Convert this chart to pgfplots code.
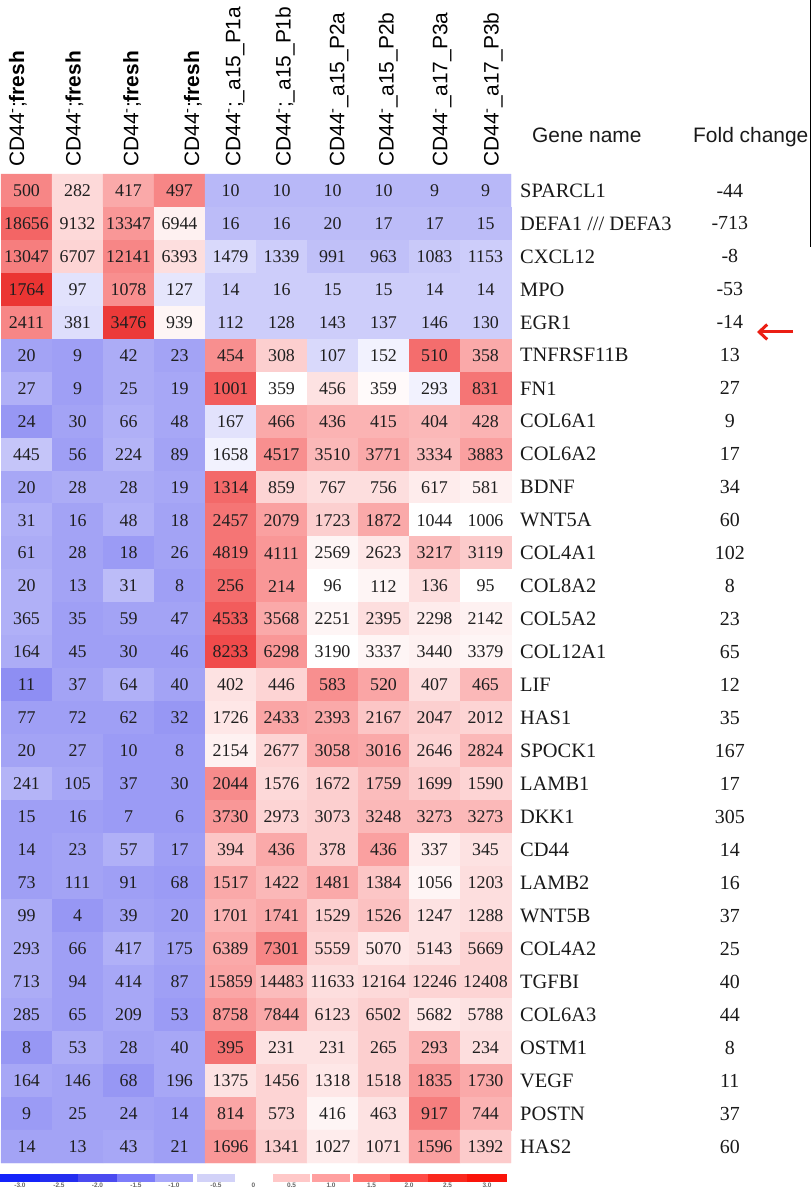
\documentclass[border=0pt]{standalone}
\usepackage{pgfplots}
\pgfplotsset{compat=1.18}
\usepackage{pgfplotstable}
\usepackage{fontspec}
\setmainfont{Liberation Serif}
\newfontfamily\hdr{Liberation Sans}
\usetikzlibrary{arrows.meta}

\pgfplotstableread[row sep=\\]{
x y c v\\
0 0 1.3 500\\ 1 0 0.4 282\\ 2 0 0.9 417\\ 3 0 1.3 497\\ 4 0 -0.85 10\\ 5 0 -0.85 10\\ 6 0 -0.85 10\\ 7 0 -0.85 10\\ 8 0 -0.85 9\\ 9 0 -0.85 9\\
0 1 1.7 18656\\ 1 1 0.4 9132\\ 2 1 1.1 13347\\ 3 1 0.15 6944\\ 4 1 -0.8 16\\ 5 1 -0.8 16\\ 6 1 -0.8 20\\ 7 1 -0.8 17\\ 8 1 -0.8 17\\ 9 1 -0.8 15\\
0 2 1.4 13047\\ 1 2 0.45 6707\\ 2 2 1.3 12141\\ 3 2 0.35 6393\\ 4 2 -0.45 1479\\ 5 2 -0.6 1339\\ 6 2 -0.75 991\\ 7 2 -0.75 963\\ 8 2 -0.65 1083\\ 9 2 -0.6 1153\\
0 3 2.4 1764\\ 1 3 -0.35 97\\ 2 3 1.2 1078\\ 3 3 -0.3 127\\ 4 3 -0.6 14\\ 5 3 -0.6 16\\ 6 3 -0.6 15\\ 7 3 -0.6 15\\ 8 3 -0.6 14\\ 9 3 -0.6 14\\
0 4 1.3 2411\\ 1 4 -0.4 381\\ 2 4 2.3 3476\\ 3 4 0.1 939\\ 4 4 -0.6 112\\ 5 4 -0.6 128\\ 6 4 -0.6 143\\ 7 4 -0.6 137\\ 8 4 -0.6 146\\ 9 4 -0.6 130\\
0 5 -1.1 20\\ 1 5 -1.15 9\\ 2 5 -1.0 42\\ 3 5 -1.1 23\\ 4 5 1.2 454\\ 5 5 0.5 308\\ 6 5 -0.45 107\\ 7 5 -0.15 152\\ 8 5 1.6 510\\ 9 5 0.9 358\\
0 6 -0.95 27\\ 1 6 -1.15 9\\ 2 6 -1.0 25\\ 3 6 -1.05 19\\ 4 6 1.8 1001\\ 5 6 0 359\\ 6 6 0.3 456\\ 7 6 0.05 359\\ 8 6 -0.15 293\\ 9 6 1.5 831\\
0 7 -1.25 24\\ 1 7 -1.1 30\\ 2 7 -0.95 66\\ 3 7 -1.05 48\\ 4 7 -0.35 167\\ 5 7 0.9 466\\ 6 7 0.8 436\\ 7 7 0.8 415\\ 8 7 0.75 404\\ 9 7 0.8 428\\
0 8 -0.7 445\\ 1 8 -1.15 56\\ 2 8 -0.9 224\\ 3 8 -1.1 89\\ 4 8 -0.15 1658\\ 5 8 1.2 4517\\ 6 8 0.75 3510\\ 7 8 0.9 3771\\ 8 8 0.7 3334\\ 9 8 1.0 3883\\
0 9 -1.05 20\\ 1 9 -1.0 28\\ 2 9 -1.0 28\\ 3 9 -1.05 19\\ 4 9 1.65 1314\\ 5 9 0.45 859\\ 6 9 0.35 767\\ 7 9 0.35 756\\ 8 9 0.2 617\\ 9 9 0.15 581\\
0 10 -0.95 31\\ 1 10 -1.1 16\\ 2 10 -0.95 48\\ 3 10 -1.1 18\\ 4 10 1.5 2457\\ 5 10 1.0 2079\\ 6 10 0.5 1723\\ 7 10 0.9 1872\\ 8 10 0 1044\\ 9 10 0 1006\\
0 11 -1.0 61\\ 1 11 -1.1 28\\ 2 11 -1.2 18\\ 3 11 -1.1 26\\ 4 11 1.5 4819\\ 5 11 1.1 4111\\ 6 11 0.1 2569\\ 7 11 0.25 2623\\ 8 11 0.7 3217\\ 9 11 0.55 3119\\
0 12 -0.95 20\\ 1 12 -1.1 13\\ 2 12 -0.8 31\\ 3 12 -1.15 8\\ 4 12 1.6 256\\ 5 12 1.1 214\\ 6 12 0 96\\ 7 12 0.1 112\\ 8 12 0.35 136\\ 9 12 0 95\\
0 13 -0.95 365\\ 1 13 -1.15 35\\ 2 13 -1.1 59\\ 3 13 -1.1 47\\ 4 13 1.8 4533\\ 5 13 0.9 3568\\ 6 13 0.1 2251\\ 7 13 0.35 2395\\ 8 13 0.2 2298\\ 9 13 0.15 2142\\
0 14 -1.0 164\\ 1 14 -1.15 45\\ 2 14 -1.15 30\\ 3 14 -1.15 46\\ 4 14 2.0 8233\\ 5 14 1.1 6298\\ 6 14 0 3190\\ 7 14 0.1 3337\\ 8 14 0.15 3440\\ 9 14 0.1 3379\\
0 15 -1.35 11\\ 1 15 -1.1 37\\ 2 15 -0.95 64\\ 3 15 -1.1 40\\ 4 15 0.3 402\\ 5 15 0.45 446\\ 6 15 1.2 583\\ 7 15 0.95 520\\ 8 15 0.35 407\\ 9 15 0.75 465\\
0 16 -1.15 77\\ 1 16 -1.15 72\\ 2 16 -1.15 62\\ 3 16 -1.25 32\\ 4 16 0.25 1726\\ 5 16 0.95 2433\\ 6 16 0.9 2393\\ 7 16 0.6 2167\\ 8 16 0.5 2047\\ 9 16 0.45 2012\\
0 17 -1.1 20\\ 1 17 -1.1 27\\ 2 17 -1.2 10\\ 3 17 -1.2 8\\ 4 17 0.15 2154\\ 5 17 0.45 2677\\ 6 17 0.95 3058\\ 7 17 0.9 3016\\ 8 17 0.45 2646\\ 9 17 0.75 2824\\
0 18 -0.9 241\\ 1 18 -1.05 105\\ 2 18 -1.2 37\\ 3 18 -1.2 30\\ 4 18 1.25 2044\\ 5 18 0.4 1576\\ 6 18 0.5 1672\\ 7 18 0.7 1759\\ 8 18 0.55 1699\\ 9 18 0.45 1590\\
0 19 -1.15 15\\ 1 19 -1.15 16\\ 2 19 -1.2 7\\ 3 19 -1.2 6\\ 4 19 1.1 3730\\ 5 19 0.45 2973\\ 6 19 0.5 3073\\ 7 19 0.75 3248\\ 8 19 0.75 3273\\ 9 19 0.75 3273\\
0 20 -1.15 14\\ 1 20 -1.1 23\\ 2 20 -0.95 57\\ 3 20 -1.15 17\\ 4 20 0.6 394\\ 5 20 0.9 436\\ 6 20 0.5 378\\ 7 20 1.0 436\\ 8 20 0.2 337\\ 9 20 0.3 345\\
0 21 -1.15 73\\ 1 21 -1.1 111\\ 2 21 -1.15 91\\ 3 21 -1.2 68\\ 4 21 0.9 1517\\ 5 21 0.75 1422\\ 6 21 0.9 1481\\ 7 21 0.6 1384\\ 8 21 0.1 1056\\ 9 21 0.35 1203\\
0 22 -1.0 99\\ 1 22 -1.25 4\\ 2 22 -1.1 39\\ 3 22 -1.15 20\\ 4 22 0.8 1701\\ 5 22 0.9 1741\\ 6 22 0.5 1529\\ 7 22 0.65 1526\\ 8 22 0.3 1247\\ 9 22 0.35 1288\\
0 23 -1.0 293\\ 1 23 -1.15 66\\ 2 23 -0.95 417\\ 3 23 -1.1 175\\ 4 23 0.9 6389\\ 5 23 1.3 7301\\ 6 23 0.45 5559\\ 7 23 0.25 5070\\ 8 23 0.3 5143\\ 9 23 0.45 5669\\
0 24 -1.0 713\\ 1 24 -1.15 94\\ 2 24 -1.05 414\\ 3 24 -1.15 87\\ 4 24 0.95 15859\\ 5 24 0.7 14483\\ 6 24 0.35 11633\\ 7 24 0.4 12164\\ 8 24 0.45 12246\\ 9 24 0.45 12408\\
0 25 -1.05 285\\ 1 25 -1.15 65\\ 2 25 -1.05 209\\ 3 25 -1.2 53\\ 4 25 1.1 8758\\ 5 25 0.9 7844\\ 6 25 0.4 6123\\ 7 25 0.5 6502\\ 8 25 0.25 5682\\ 9 25 0.3 5788\\
0 26 -1.25 8\\ 1 26 -1.0 53\\ 2 26 -1.1 28\\ 3 26 -1.05 40\\ 4 26 1.55 395\\ 5 26 0.3 231\\ 6 26 0.3 231\\ 7 26 0.5 265\\ 8 26 0.8 293\\ 9 26 0.35 234\\
0 27 -1.05 164\\ 1 27 -1.1 146\\ 2 27 -1.25 68\\ 3 27 -1.05 196\\ 4 27 0.3 1375\\ 5 27 0.45 1456\\ 6 27 0.25 1318\\ 7 27 0.5 1518\\ 8 27 1.1 1835\\ 9 27 0.9 1730\\
0 28 -1.2 9\\ 1 28 -1.1 25\\ 2 28 -1.1 24\\ 3 28 -1.15 14\\ 4 28 0.95 814\\ 5 28 0.45 573\\ 6 28 0.1 416\\ 7 28 0.3 463\\ 8 28 1.4 917\\ 9 28 0.8 744\\
0 29 -1.1 14\\ 1 29 -1.1 13\\ 2 29 -1.05 43\\ 3 29 -1.15 21\\ 4 29 1.1 1696\\ 5 29 0.5 1341\\ 6 29 0.2 1027\\ 7 29 0.3 1071\\ 8 29 1.0 1596\\ 9 29 0.55 1392\\
}\cells

\pgfplotstableread[row sep=\\]{
x y f\\
13.79 0 -44\\ 13.79 1 -713\\ 13.79 2 -8\\ 13.79 3 -53\\ 13.79 4 -14\\
13.79 5 13\\ 13.79 6 27\\ 13.79 7 9\\ 13.79 8 17\\ 13.79 9 34\\
13.79 10 60\\ 13.79 11 102\\ 13.79 12 8\\ 13.79 13 23\\ 13.79 14 65\\
13.79 15 12\\ 13.79 16 35\\ 13.79 17 167\\ 13.79 18 17\\ 13.79 19 305\\
13.79 20 14\\ 13.79 21 16\\ 13.79 22 37\\ 13.79 23 25\\ 13.79 24 40\\
13.79 25 44\\ 13.79 26 8\\ 13.79 27 11\\ 13.79 28 37\\ 13.79 29 60\\
}\folds

\definecolor{cb1}{RGB}{20,35,250}
\definecolor{cb2}{RGB}{35,45,240}
\definecolor{cb3}{RGB}{75,75,240}
\definecolor{cb4}{RGB}{125,125,250}
\definecolor{cb5}{RGB}{170,170,250}
\definecolor{cb6}{RGB}{210,210,248}
\definecolor{cb8}{RGB}{255,200,200}
\definecolor{cb9}{RGB}{255,160,160}
\definecolor{cb10}{RGB}{255,115,110}
\definecolor{cb11}{RGB}{255,75,70}
\definecolor{cb12}{RGB}{250,40,30}
\definecolor{cb13}{RGB}{250,20,10}
\definecolor{arrowred}{RGB}{235,30,20}

\begin{document}
\begin{tikzpicture}
\useasboundingbox (0,0) rectangle (812bp,1192bp);
\begin{axis}[
  at={(1bp,29bp)}, anchor=south west, scale only axis,
  width=510bp, height=989bp,
  xmin=-0.5, xmax=9.5, ymin=-0.5, ymax=29.5, y dir=reverse,
  axis line style={draw=none}, major tick length=0pt, clip=false,
  colormap={hm}{rgb255(0cm)=(10,10,230) rgb255(1.5cm)=(130,130,242) rgb255(3cm)=(255,255,255) rgb255(4cm)=(250,160,160) rgb255(5cm)=(240,75,75) rgb255(6cm)=(228,20,15)},
  point meta min=-3, point meta max=3,
  xtick={-0.17,0.94,2.07,3.26,4.09,5.07,6.13,7.09,8.15,9.15},
  xticklabels={CD44\textsuperscript{-};\textbf{fresh},CD44\textsuperscript{-};\textbf{fresh},CD44\textsuperscript{-};\textbf{fresh},CD44\textsuperscript{-};\textbf{fresh},
    CD44\textsuperscript{-};\_a15\_P1a,CD44\textsuperscript{-};\_a15\_P1b,CD44\textsuperscript{-}\_a15\_P2a,CD44\textsuperscript{-}\_a15\_P2b,CD44\textsuperscript{-}\_a17\_P3a,CD44\textsuperscript{-}\_a17\_P3b},
  xticklabel pos=upper,
  xticklabel style={yshift=7bp, rotate=90, anchor=west, inner sep=0pt, font=\hdr\fontsize{21}{21}\selectfont},
  ytick={0,...,29},
  yticklabels={SPARCL1,DEFA1 /// DEFA3,CXCL12,MPO,EGR1,TNFRSF11B,FN1,COL6A1,COL6A2,BDNF,WNT5A,COL4A1,COL8A2,COL5A2,COL12A1,LIF,HAS1,SPOCK1,LAMB1,DKK1,CD44,LAMB2,WNT5B,COL4A2,TGFBI,COL6A3,OSTM1,VEGF,POSTN,HAS2},
  yticklabel pos=upper,
  yticklabel style={anchor=west, inner sep=0pt, xshift=9bp, font=\fontsize{20.5}{20.5}\selectfont, text=black!90},
]
\addplot[matrix plot*, mesh/cols=10, point meta=explicit] table[x=x, y=y, meta=c] {\cells};
\addplot[draw=none, mark=none, point meta=explicit symbolic,
  nodes near coords, nodes near coords align={center},
  nodes near coords style={anchor=center, inner sep=0pt, font=\fontsize{18}{18}\selectfont, text=black!88}]
  table[x=x, y=y, meta=v] {\cells};
\addplot[draw=none, mark=none, point meta=explicit symbolic,
  nodes near coords, nodes near coords align={center},
  nodes near coords style={anchor=center, inner sep=0pt, font=\fontsize{20}{20}\selectfont, text=black!90}]
  table[x=x, y=y, meta=f] {\folds};
\end{axis}

\begin{axis}[
  at={(0bp,10bp)}, anchor=south west, scale only axis,
  width=507bp, height=8bp,
  xmin=0, xmax=507, ymin=0, ymax=1,
  axis line style={draw=none}, major tick length=0pt, ytick=\empty,
  xtick={20,59,97.5,136,174,216,253.5,291.5,331,371.5,409,447.5,487},
  xticklabels={-3.0,-2.5,-2.0,-1.5,-1.0,-0.5,0,0.5,1.0,1.5,2.0,2.5,3.0},
  xticklabel style={inner sep=0pt, yshift=-1bp, font=\hdr\bfseries\fontsize{6.5}{6.5}\selectfont, text=black!60},
]
\addplot[fill=cb1, draw=none] coordinates {(0,1) (40,1)} \closedcycle;
\addplot[fill=cb2, draw=none] coordinates {(40,1) (78,1)} \closedcycle;
\addplot[fill=cb3, draw=none] coordinates {(78,1) (117,1)} \closedcycle;
\addplot[fill=cb4, draw=none] coordinates {(117,1) (155,1)} \closedcycle;
\addplot[fill=cb5, draw=none] coordinates {(155,1) (193,1)} \closedcycle;
\addplot[fill=cb6, draw=none] coordinates {(197,1) (235,1)} \closedcycle;
\addplot[fill=cb8, draw=none] coordinates {(273,1) (310,1)} \closedcycle;
\addplot[fill=cb9, draw=none] coordinates {(312,1) (350,1)} \closedcycle;
\addplot[fill=cb10, draw=none] coordinates {(353,1) (390,1)} \closedcycle;
\addplot[fill=cb11, draw=none] coordinates {(390,1) (428,1)} \closedcycle;
\addplot[fill=cb12, draw=none] coordinates {(428,1) (467,1)} \closedcycle;
\addplot[fill=cb13, draw=none] coordinates {(467,1) (507,1)} \closedcycle;
\end{axis}

\node[anchor=base west, inner sep=0pt, font=\hdr\fontsize{21}{21}\selectfont, text=black!90] at (532bp,1049bp) {Gene name};
\node[anchor=base west, inner sep=0pt, font=\hdr\fontsize{21}{21}\selectfont, text=black!90] at (693bp,1049bp) {Fold change};
\draw[arrowred, line width=3bp, -{Straight Barb[length=8bp, width=15bp, line width=3bp]}] (793bp,860bp) -- (757bp,860bp);
\draw[black, line width=1.2bp] (810.5bp,1192bp) -- (810.5bp,945bp);
\end{tikzpicture}
\end{document}
